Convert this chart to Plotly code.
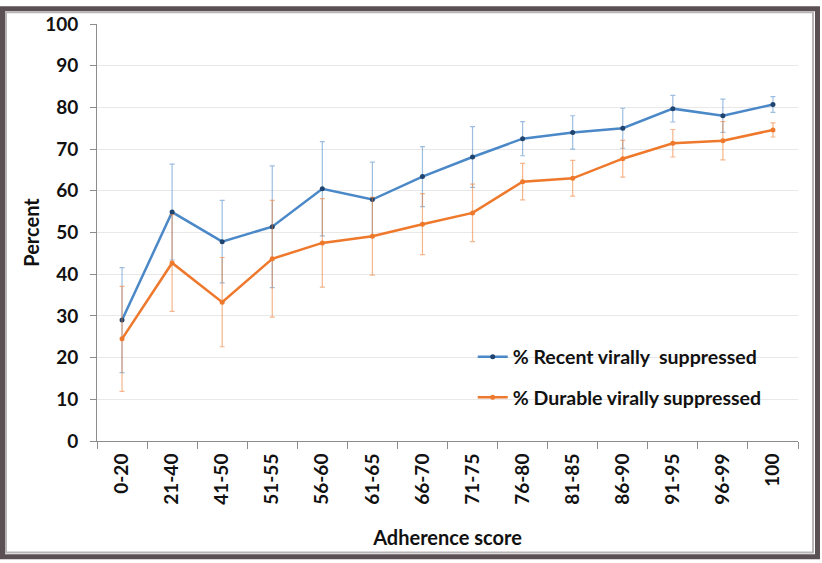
import plotly.graph_objects as go

# Adherence score bands
categories = ["0-20", "21-40", "41-50", "51-55", "56-60", "61-65", "66-70",
              "71-75", "76-80", "81-85", "86-90", "91-95", "96-99", "100"]

# % Recent virally suppressed, with error margins
recent = [29.0, 54.9, 47.8, 51.4, 60.5, 57.9, 63.4, 68.1, 72.5, 74.0, 75.0, 79.7, 78.0, 80.7]
recent_err = [12.6, 11.5, 9.9, 14.6, 11.3, 9.0, 7.2, 7.3, 4.1, 4.0, 4.8, 3.2, 4.0, 1.9]

# % Durable virally suppressed, with error margins
durable = [24.5, 42.7, 33.3, 43.7, 47.5, 49.1, 52.0, 54.7, 62.2, 63.0, 67.7, 71.4, 72.0, 74.6]
durable_err = [12.6, 11.6, 10.7, 14.0, 10.6, 9.3, 7.3, 6.9, 4.4, 4.3, 4.4, 3.3, 4.6, 1.7]

BLUE = "#4a88c8"
ORANGE = "#ee782b"
FONT = "Lato"

fig = go.Figure()

fig.add_trace(
    go.Scatter(
        x=categories,
        y=recent,
        mode="lines+markers",
        name="% Recent virally  suppressed",
        legendgroup="recent",
        line=dict(color=BLUE, width=2.5),
        marker=dict(size=5, color="#1f4470"),
        error_y=dict(type="data", array=recent_err, color="rgba(74,136,200,0.55)",
                     thickness=1.2, width=2.5),
    )
)

fig.add_trace(
    go.Scatter(
        x=categories,
        y=durable,
        mode="lines+markers",
        name="% Durable virally suppressed",
        legendgroup="durable",
        line=dict(color=ORANGE, width=2.5),
        marker=dict(size=5, color=ORANGE),
        error_y=dict(type="data", array=durable_err, color="rgba(238,120,43,0.55)",
                     thickness=1.2, width=2.5),
    )
)

# Picture frame around the whole figure (paper coords relative to plot area)
L, R, T, B = 97, 24, 18, 122
W, H = 822, 563
pw, ph = W - L - R, H - T - B


def px_to_paper_x(px):
    return (px - L) / pw


def px_to_paper_y(py):
    return (H - B - py) / ph


fig.add_shape(
    type="rect", xref="paper", yref="paper",
    x0=px_to_paper_x(2.5), x1=px_to_paper_x(W - 4.5),
    y0=px_to_paper_y(H - 4.5), y1=px_to_paper_y(2.5),
    line=dict(color="#5b5054", width=5), fillcolor="rgba(0,0,0,0)", layer="above",
)
fig.add_shape(
    type="rect", xref="paper", yref="paper",
    x0=px_to_paper_x(6), x1=px_to_paper_x(W - 9),
    y0=px_to_paper_y(H - 9), y1=px_to_paper_y(6),
    line=dict(color="#b9b4b6", width=2), fillcolor="rgba(0,0,0,0)", layer="above",
)

fig.update_layout(
    width=W,
    height=H,
    margin=dict(l=L, r=R, t=T, b=B),
    paper_bgcolor="white",
    plot_bgcolor="white",
    font=dict(family=FONT, size=17, color="#111111"),
    showlegend=True,
    legend=dict(
        x=0.536, y=0.153, xanchor="left", yanchor="middle",
        bgcolor="rgba(0,0,0,0)",
        font=dict(family=FONT, size=19.5, weight="bold", color="#111111"),
        traceorder="grouped",
        tracegroupgap=12,
        itemwidth=30,
    ),
    xaxis=dict(
        title=dict(text="Adherence score", font=dict(family=FONT, size=20, weight="bold"),
                   standoff=27),
        tickangle=-90,
        tickfont=dict(family=FONT, size=19, weight="bold"),
        ticklabelstandoff=4,
        showline=True, linecolor="#8c8c8c", linewidth=1,
        ticks="outside", tickson="boundaries", ticklen=7, tickcolor="#8c8c8c",
        showgrid=False,
        range=[-0.5, len(categories) - 0.5],
    ),
    yaxis=dict(
        title=dict(text="Percent", font=dict(family=FONT, size=20, weight="bold"), standoff=0),
        range=[0, 100],
        dtick=10,
        tickfont=dict(family=FONT, size=19, weight="bold"),
        ticklabelstandoff=8,
        showline=True, linecolor="#8c8c8c", linewidth=1,
        ticks="outside", ticklen=6, tickcolor="#8c8c8c",
        showgrid=True, gridcolor="#e8e8e8", gridwidth=1,
        zeroline=False,
    ),
)

# drop the default body margin so the figure sits flush in the window
fig.write_html(
    "out.html",
    config={"displayModeBar": False},
    post_script="document.body.style.margin='0';",
)
